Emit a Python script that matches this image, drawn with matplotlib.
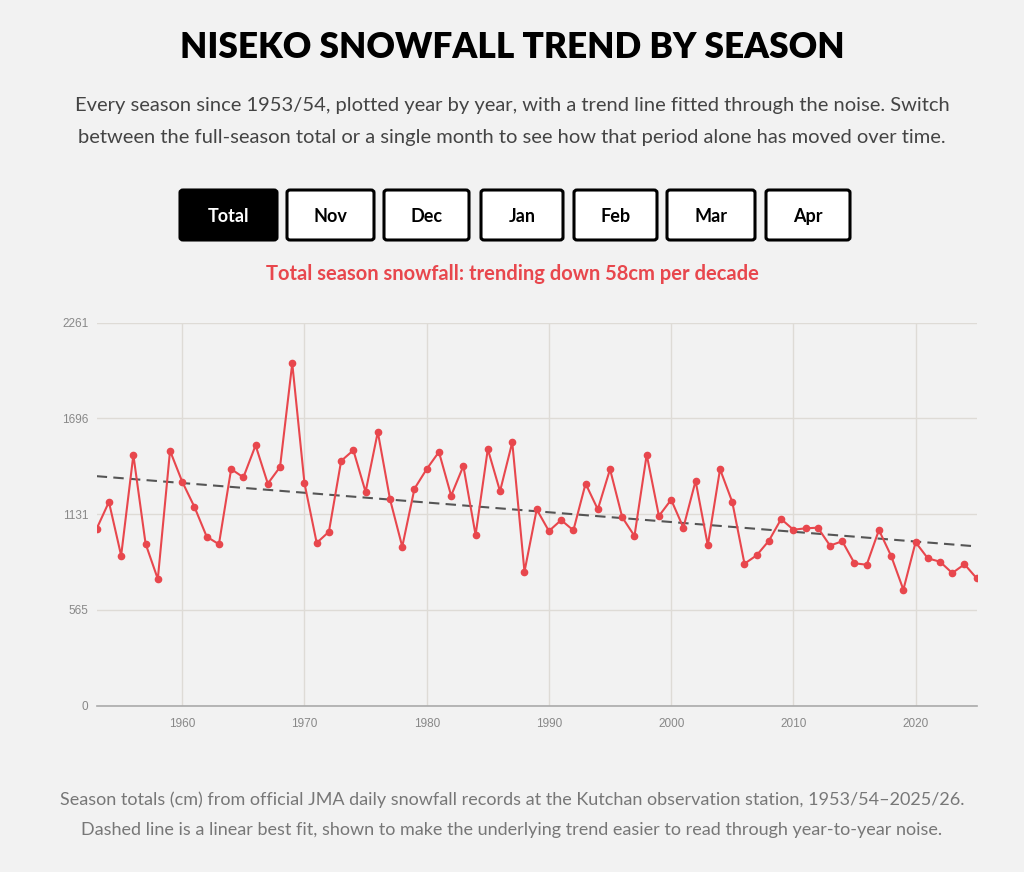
import numpy as np
import matplotlib
matplotlib.use("Agg")
import matplotlib.pyplot as plt
from matplotlib.patches import FancyBboxPatch

# season start years and total snowfall (cm)
seasons = list(range(1953, 2026))
snowfall = [1045, 1203, 886, 1480, 956, 748, 1505, 1322, 1173, 998,
            953, 1397, 1348, 1537, 1311, 1409, 2021, 1313, 961, 1027,
            1445, 1508, 1262, 1616, 1218, 939, 1281, 1397, 1498, 1240,
            1415, 1008, 1515, 1266, 1555, 791, 1159, 1031, 1096, 1035,
            1311, 1159, 1396, 1112, 1002, 1482, 1120, 1216, 1051, 1327,
            947, 1396, 1203, 838, 888, 974, 1102, 1039, 1047, 1051,
            945, 971, 841, 832, 1037, 884, 685, 965, 870, 850,
            783, 835, 752]

y_ticks = [0, 565, 1131, 1696, 2261]
x_ticks = [1960, 1970, 1980, 1990, 2000, 2010, 2020]
buttons = ["Total", "Nov", "Dec", "Jan", "Feb", "Mar", "Apr"]

W, H = 1024, 872
BG = "#f2f2f2"
RED = "#e8474d"

plt.rcParams["font.family"] = ["Lato", "DejaVu Sans"]

fig = plt.figure(figsize=(W / 100, H / 100), dpi=100, facecolor=BG)


def fx(px):
    return px / W


def fy(py):
    return 1 - py / H


# header texts
fig.text(0.5, fy(48), "NISEKO SNOWFALL TREND BY SEASON", ha="center", va="center",
         fontsize=25.3, fontweight="heavy", color="#000000")
fig.text(0.5, fy(105), "Every season since 1953/54, plotted year by year, with a trend line fitted through the noise. Switch",
         ha="center", va="center", fontsize=14.5, color="#444444")
fig.text(0.5, fy(137), "between the full-season total or a single month to see how that period alone has moved over time.",
         ha="center", va="center", fontsize=14.5, color="#444444")

# month switch buttons
btn_x = [(180, 277), (287, 374), (384, 469), (481, 563), (574, 657), (667, 755), (766, 850)]
for i, (name, (x0, x1)) in enumerate(zip(buttons, btn_x)):
    active = i == 0
    box = FancyBboxPatch((fx(x0), fy(240)), fx(x1 - x0), (240 - 190) / H,
                         boxstyle="round,pad=0,rounding_size=0.003",
                         transform=fig.transFigure,
                         facecolor="#000000" if active else "#ffffff",
                         edgecolor="#000000", linewidth=2.2)
    fig.add_artist(box)
    fig.text(fx((x0 + x1) / 2), fy(216), name, ha="center", va="center",
             fontsize=13, fontweight="bold",
             color="#ffffff" if active else "#000000")

# trend line fit
coef = np.polyfit(seasons, snowfall, 1)
per_decade = round(-coef[0] * 10)
fig.text(0.5, fy(274), f"Total season snowfall: trending down {per_decade}cm per decade",
         ha="center", va="center", fontsize=14.5, fontweight="bold", color=RED)

# chart
ax = fig.add_axes([fx(96.7), fy(705.7), fx(976.7 - 96.7), (705.7 - 322.7) / H])
ax.set_facecolor(BG)
ax.plot(seasons, snowfall, color=RED, linewidth=1.5, marker="o", markersize=4.5,
        zorder=3)
trend = np.polyval(coef, np.array(seasons))
ax.plot(seasons, trend, color="#555555", linewidth=1.5, linestyle=(0, (5, 3)), zorder=2)

ax.set_xlim(1953, 2025)
ax.set_ylim(0, 2261)
ax.set_yticks(y_ticks)
ax.set_xticks(x_ticks)
ax.grid(True, color="#dedbd6", linewidth=1)
ax.set_axisbelow(True)
for s in ["top", "right", "left"]:
    ax.spines[s].set_visible(False)
ax.spines["bottom"].set_color("#aaaaaa")
ax.spines["bottom"].set_linewidth(1.2)
ax.tick_params(axis="both", length=0, colors="#888888", labelsize=8.5)
ax.tick_params(axis="y", pad=6)
ax.tick_params(axis="x", pad=8.5)
for lab in ax.get_xticklabels() + ax.get_yticklabels():
    lab.set_fontfamily(["Liberation Sans", "DejaVu Sans"])

# footer notes
fig.text(0.5, fy(800), "Season totals (cm) from official JMA daily snowfall records at the Kutchan observation station, 1953/54\u20132025/26.",
         ha="center", va="center", fontsize=12.95, color="#777777")
fig.text(0.5, fy(830), "Dashed line is a linear best fit, shown to make the underlying trend easier to read through year-to-year noise.",
         ha="center", va="center", fontsize=12.95, color="#777777")

fig.savefig("out.png", dpi=100, facecolor=BG)
